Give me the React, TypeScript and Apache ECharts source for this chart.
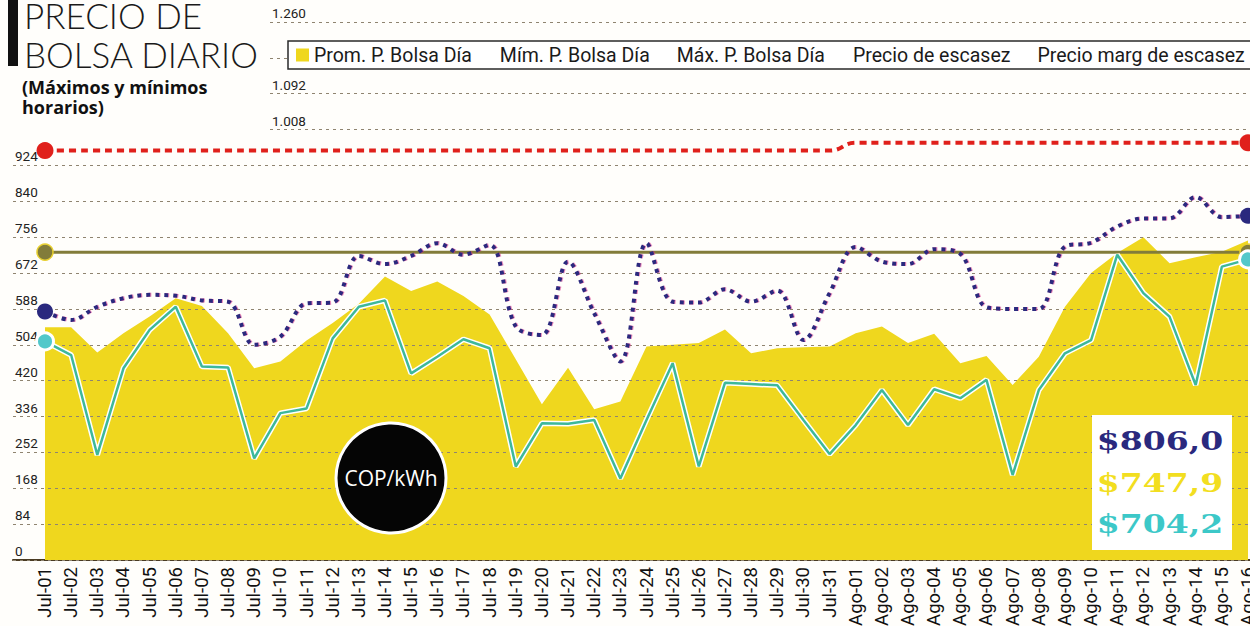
import React, { useEffect, useRef } from 'react';
import * as echarts from 'echarts';

const categories = [
  'Jul-01', 'Jul-02', 'Jul-03', 'Jul-04', 'Jul-05', 'Jul-06', 'Jul-07', 'Jul-08', 'Jul-09', 'Jul-10',
  'Jul-11', 'Jul-12', 'Jul-13', 'Jul-14', 'Jul-15', 'Jul-16', 'Jul-17', 'Jul-18', 'Jul-19', 'Jul-20',
  'Jul-21', 'Jul-22', 'Jul-23', 'Jul-24', 'Jul-25', 'Jul-26', 'Jul-27', 'Jul-28', 'Jul-29', 'Jul-30',
  'Jul-31', 'Ago-01', 'Ago-02', 'Ago-03', 'Ago-04', 'Ago-05', 'Ago-06', 'Ago-07', 'Ago-08', 'Ago-09',
  'Ago-10', 'Ago-11', 'Ago-12', 'Ago-13', 'Ago-14', 'Ago-15', 'Ago-16',
];

const promValues = [
  545, 545, 486, 531, 570, 613, 595, 531, 449, 465,
  514, 555, 600, 664, 630, 652, 618, 575, 470, 365,
  450, 353, 371, 500, 504, 508, 540, 484, 496, 498,
  500, 531, 547, 508, 530, 461, 478, 410, 476, 593,
  672, 719, 756, 695, 709, 722, 748,
];

const minValues = [
  512, 480, 246, 449, 539, 593, 453, 451, 238, 344,
  355, 519, 593, 608, 437, 476, 517, 496, 219, 320,
  319, 328, 191, 328, 461, 219, 415, 412, 409, 328,
  248, 316, 398, 316, 400, 379, 422, 199, 398, 484,
  515, 715, 625, 570, 410, 687, 704,
];

const maxValues = [
  582, 562, 593, 613, 621, 619, 608, 605, 504, 523,
  601, 603, 712, 693, 712, 742, 715, 738, 547, 527,
  699, 578, 465, 742, 605, 603, 634, 605, 631, 515,
  625, 733, 699, 693, 728, 717, 592, 588, 588, 734,
  743, 781, 800, 800, 850, 803, 806,
];

const scarcityValues = [
  721, 721, 721, 721, 721, 721, 721, 721, 721, 721,
  721, 721, 721, 721, 721, 721, 721, 721, 721, 721,
  721, 721, 721, 721, 721, 721, 721, 721, 721, 721,
  721, 721, 721, 721, 721, 721, 721, 721, 721, 721,
  721, 721, 721, 721, 721, 721, 721,
];

const margScarcityValues = [
  959, 959, 959, 959, 959, 959, 959, 959, 959, 959,
  959, 959, 959, 959, 959, 959, 959, 959, 959, 959,
  959, 959, 959, 959, 959, 959, 959, 959, 959, 959,
  959, 977, 977, 977, 977, 977, 977, 977, 977, 977,
  977, 977, 977, 977, 977, 977, 977,
];

const seriesNames = [
  'Prom. P. Bolsa Día',
  'Mím. P. Bolsa Día',
  'Máx. P. Bolsa Día',
  'Precio de escasez',
  'Precio marg de escasez',
];

const yAxisMax = 1260;
const yLowerMax = 924;
const yUpperMin = 1008;
const yInterval = 84;
const hiddenTickLabels = [1176];

const titleLines = ['PRECIO DE', 'BOLSA DIARIO'];
const subtitleLines = ['(Máximos y mínimos', 'horarios)'];
const unitLabel = 'COP/kWh';
const lastValueLabels = ['$806,0', '$747,9', '$704,2'];

const COLORS = {
  prom: '#EFD71E',
  min: '#3DB89B',
  minDot: '#52C8CA',
  max: '#2A297E',
  scarcity: '#827C3A',
  marg: '#E0201B',
  grid: '#8f8470',
  base: '#4a3b22',
};

const FONT = 'Roboto, "Noto Sans", sans-serif';

const edgeSize = (size: number) => (_v: any, p: any) =>
  p.dataIndex === 0 || p.dataIndex === categories.length - 1 ? size : 0;

function fmtThousands(v: number) {
  const s = String(Math.round(v));
  return s.length > 3 ? s.slice(0, s.length - 3) + '.' + s.slice(s.length - 3) : s;
}

export default function App() {
  const ref = useRef<HTMLDivElement>(null);

  useEffect(() => {
    if (!ref.current) return;
    const chart = echarts.init(ref.current, undefined, { renderer: 'svg' });

    const option: any = {
      animation: false,
      backgroundColor: '#FFFEFB',
      legend: {
        left: 288,
        top: 41,
        width: 1400,
        orient: 'horizontal',
        backgroundColor: '#ffffff',
        borderColor: '#2a2a2a',
        borderWidth: 1.5,
        borderRadius: 0,
        padding: [4, 10, 4, 8],
        itemGap: 9,
        itemWidth: 13,
        itemHeight: 13,
        textStyle: { fontFamily: FONT, fontSize: 19.5, color: '#1a1a1a' },
        data: seriesNames.map((n, i) =>
          i === 0
            ? { name: n, icon: 'rect', itemStyle: { color: COLORS.prom } }
            : { name: n, icon: 'rect', itemStyle: { opacity: 0 }, lineStyle: { opacity: 0 } }
        ),
      },
      grid: [
        { left: 45, right: 2, top: 22, bottom: 66, outerBoundsMode: 'none', containLabel: false },
        {
          left: 13,
          right: 0,
          top: 560 - (yLowerMax * 538) / yAxisMax,
          bottom: 66,
          outerBoundsMode: 'none',
          containLabel: false,
        },
        {
          left: 270,
          right: 0,
          top: 22,
          bottom: 626 - (560 - (yUpperMin * 538) / yAxisMax),
          outerBoundsMode: 'none',
          containLabel: false,
        },
      ],
      xAxis: [
        {
          type: 'category',
          gridIndex: 0,
          data: categories,
          boundaryGap: false,
          axisLine: { show: false },
          axisTick: { show: false },
          axisLabel: {
            interval: 0,
            rotate: 90,
            margin: 7,
            fontFamily: FONT,
            fontSize: 18.5,
            color: '#111',
          },
        },
        {
          type: 'value',
          gridIndex: 1,
          min: 0,
          max: 1,
          axisLine: { show: true, lineStyle: { color: COLORS.base, width: 2 } },
          axisTick: { show: false },
          axisLabel: { show: false },
          splitLine: { show: false },
        },
        {
          type: 'value',
          gridIndex: 2,
          min: 0,
          max: 1,
          show: false,
        },
      ],
      yAxis: [
        {
          type: 'value',
          gridIndex: 0,
          min: 0,
          max: yAxisMax,
          interval: yInterval,
          show: false,
          splitLine: { show: false },
        },
        {
          type: 'value',
          gridIndex: 1,
          min: 0,
          max: yLowerMax,
          interval: yInterval,
          z: 2,
          axisLine: { show: false },
          axisTick: { show: false },
          axisLabel: {
            inside: true,
            margin: 2,
            verticalAlign: 'bottom',
            padding: [0, 0, 2, 0],
            fontFamily: FONT,
            fontSize: 13.5,
            color: '#222',
            formatter: (v: number) => fmtThousands(v),
          },
          splitLine: { show: true, lineStyle: { color: COLORS.grid, width: 1, type: [3, 4] } },
        },
        {
          type: 'value',
          gridIndex: 2,
          min: yUpperMin,
          max: yAxisMax,
          interval: yInterval,
          z: 2,
          axisLine: { show: false },
          axisTick: { show: false },
          axisLabel: {
            inside: true,
            margin: 2,
            verticalAlign: 'bottom',
            padding: [0, 0, 2, 0],
            fontFamily: FONT,
            fontSize: 13.5,
            color: '#222',
            formatter: (v: number) => (hiddenTickLabels.includes(v) ? '' : fmtThousands(v)),
          },
          splitLine: { show: true, lineStyle: { color: COLORS.grid, width: 1, type: [3, 4] } },
        },
      ],
      series: [
        {
          name: seriesNames[0],
          type: 'line',
          xAxisIndex: 0,
          yAxisIndex: 0,
          data: promValues,
          symbol: 'none',
          lineStyle: { width: 0 },
          itemStyle: { color: COLORS.prom },
          areaStyle: { color: COLORS.prom, opacity: 1 },
          z: 1,
        },
        {
          name: seriesNames[3],
          type: 'line',
          xAxisIndex: 0,
          yAxisIndex: 0,
          data: scarcityValues,
          symbol: 'circle',
          showAllSymbol: true,
          symbolSize: edgeSize(16),
          lineStyle: { color: COLORS.scarcity, width: 3 },
          itemStyle: { color: COLORS.scarcity, borderColor: '#E8D030', borderWidth: 1.5 },
          z: 5,
        },
        {
          name: seriesNames[4],
          type: 'line',
          xAxisIndex: 0,
          yAxisIndex: 0,
          data: margScarcityValues,
          smooth: 0.5,
          symbol: 'circle',
          showAllSymbol: true,
          symbolSize: edgeSize(17),
          lineStyle: { color: COLORS.marg, width: 4, type: [7, 5] },
          itemStyle: { color: COLORS.marg },
          z: 5,
        },
        {
          name: seriesNames[2],
          type: 'line',
          xAxisIndex: 0,
          yAxisIndex: 0,
          data: maxValues,
          smooth: 0.35,
          symbol: 'circle',
          showAllSymbol: true,
          symbolSize: edgeSize(16),
          lineStyle: {
            color: COLORS.max,
            width: 4,
            type: [4, 5],
            shadowColor: 'rgba(214,40,130,0.5)',
            shadowOffsetX: 1,
            shadowOffsetY: 0,
            shadowBlur: 0,
          },
          itemStyle: { color: COLORS.max },
          z: 5,
        },
        {
          name: 'min-outline',
          type: 'line',
          xAxisIndex: 0,
          yAxisIndex: 0,
          data: minValues,
          symbol: 'none',
          silent: true,
          lineStyle: { color: '#ffffff', width: 5.5 },
          z: 5,
        },
        {
          name: seriesNames[1],
          type: 'line',
          xAxisIndex: 0,
          yAxisIndex: 0,
          data: minValues,
          symbol: 'circle',
          showAllSymbol: true,
          symbolSize: edgeSize(17),
          lineStyle: { color: COLORS.min, width: 2.5 },
          itemStyle: { color: COLORS.minDot, borderColor: '#ffffff', borderWidth: 3 },
          z: 6,
        },
      ],
      graphic: [
        { type: 'rect', shape: { x: 8, y: 0, width: 10, height: 66 }, style: { fill: '#111' }, z: 10 },
        {
          type: 'text',
          x: 24,
          y: 34,
          style: {
            text: titleLines.join('\n'),
            fontFamily: 'Lato, "Open Sans", sans-serif',
            fontWeight: 300,
            fontSize: 35,
            lineHeight: 39,
            fill: '#1a1a1a',
            verticalAlign: 'middle',
          },
          z: 10,
        },
        {
          type: 'text',
          x: 22,
          y: 97,
          style: {
            text: subtitleLines.join('\n'),
            fontFamily: '"Open Sans", sans-serif',
            fontWeight: 700,
            fontSize: 18,
            lineHeight: 20.5,
            fill: '#111',
            verticalAlign: 'middle',
          },
          z: 10,
        },
        {
          type: 'circle',
          shape: { cx: 391, cy: 478, r: 55 },
          style: { fill: '#050505', stroke: '#ffffff', lineWidth: 3 },
          z: 10,
        },
        {
          type: 'text',
          x: 391,
          y: 478,
          style: {
            text: unitLabel,
            fontFamily: '"Open Sans", sans-serif',
            fontSize: 21,
            fill: '#ffffff',
            align: 'center',
            verticalAlign: 'middle',
          },
          z: 11,
        },
        {
          type: 'rect',
          shape: { x: 1092, y: 415, width: 140, height: 135 },
          style: { fill: '#ffffff' },
          z: 10,
        },
        ...lastValueLabels.map((t, i) => ({
          type: 'text',
          x: 1160,
          y: [441, 483, 524][i],
          scaleX: 1.27,
          style: {
            text: t,
            fontFamily: '"DejaVu Serif", serif',
            fontWeight: 700,
            fontSize: 26,
            fill: [COLORS.max, '#F2DE20', '#3CC8C8'][i],
            align: 'center',
            verticalAlign: 'middle',
          },
          z: 11,
        })),
      ],
    };

    chart.setOption(option);
    return () => chart.dispose();
  }, []);

  return (
    <div
      ref={ref}
      style={{ position: 'fixed', left: 0, top: 0, width: 1250, height: 626 }}
    />
  );
}
